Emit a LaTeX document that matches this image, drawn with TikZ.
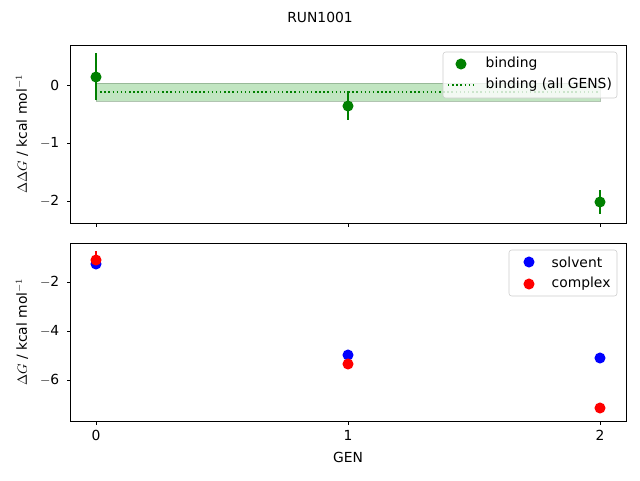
\documentclass[tikz,border=0pt]{standalone}
\usepackage{fontspec}
\setmainfont{DejaVu Sans}
\definecolor{mgreen}{RGB}{0,128,0}
\definecolor{band}{RGB}{178,223,178}
\begin{document}
\begin{tikzpicture}[x=0.75pt,y=-0.75pt,font=\fontsize{10.4}{12}\selectfont,
  ax/.style={draw=black,line width=0.6pt},
  tk/.style={line width=0.6pt},
  dotg/.style={circle,fill=mgreen,inner sep=0pt,minimum size=8.3pt},
  dotb/.style={circle,fill=blue,inner sep=0pt,minimum size=8.3pt},
  dotr/.style={circle,fill=red,inner sep=0pt,minimum size=8.3pt},
  eb/.style={line width=1.1pt}]
\useasboundingbox (0,0) rectangle (640,480);
\node (title) at (320,17) {RUN1001};
% top axes
\fill[band,opacity=0.8] (96,83) rectangle (600,101);
\draw[band!70!black,line width=0.4pt,opacity=0.6] (96,83) rectangle (600,101);
\draw[mgreen,dotted,line width=1.1pt] (96,92) -- (600,92);
\draw[mgreen,eb] (96,53) -- (96,100);
\draw[mgreen,eb] (348,91) -- (348,120);
\draw[mgreen,eb] (600,190) -- (600,214);
\node[dotg] (g0) at (96,77) {};
\node[dotg] (g1) at (348,106) {};
\node[dotg] (g2) at (600,202) {};
\draw[ax] (70,45) rectangle (626,223);
\foreach \y/\l in {85/0,143/$-$1,201/$-$2} {
  \draw[tk] (70,\y) -- (66.5,\y);
  \node[anchor=east] at (64,\y) {\l};}
\foreach \x in {96,348,600} \draw[tk] (\x,223) -- (\x,226.5);
\node[rotate=90] (yl1) at (22,134) {$\Delta\Delta G$ / kcal mol$^{-1}$};
% top legend
\draw[black!20,fill=white,fill opacity=0.8,rounded corners=2pt] (443,52) rectangle (617,98);
\node[dotg] (lg1) at (461,64) {};
\node[anchor=west] (lt1) at (481,64) {binding};
\draw[mgreen,dotted,line width=1.1pt] (448,85) -- (476,85);
\node[anchor=west] (lt2) at (481,85) {binding (all GENS)};
% bottom axes
\draw[red,eb] (96,251) -- (96,265);
\node[dotb] (b0) at (96,264) {};
\node[dotr] (r0) at (96,260) {};
\node[dotb] (b1) at (348,355) {};
\node[dotr] (r1) at (348,364) {};
\node[dotb] (b2) at (600,358) {};
\node[dotr] (r2) at (600,408) {};
\draw[ax] (70,243) rectangle (626,421);
\foreach \y/\l in {282/$-$2,331/$-$4,380/$-$6} {
  \draw[tk] (70,\y) -- (66.5,\y);
  \node[anchor=east] at (64,\y) {\l};}
\foreach \x/\l in {96/0,348/1,600/2} {
  \draw[tk] (\x,421) -- (\x,424.5);
  \node at (\x,435) {\l};}
\node[rotate=90] (yl2) at (22,332) {$\Delta G$ / kcal mol$^{-1}$};
\node (xl) at (348,457) {GEN};
% bottom legend
\draw[black!20,fill=white,fill opacity=0.8,rounded corners=2pt] (509,250) rectangle (617,296);
\node[dotb] (lb) at (529,262) {};
\node[anchor=west] (ls) at (547,262) {solvent};
\node[dotr] (lr) at (529,284) {};
\node[anchor=west] (lc) at (547,284) {complex};
\end{tikzpicture}
\end{document}
